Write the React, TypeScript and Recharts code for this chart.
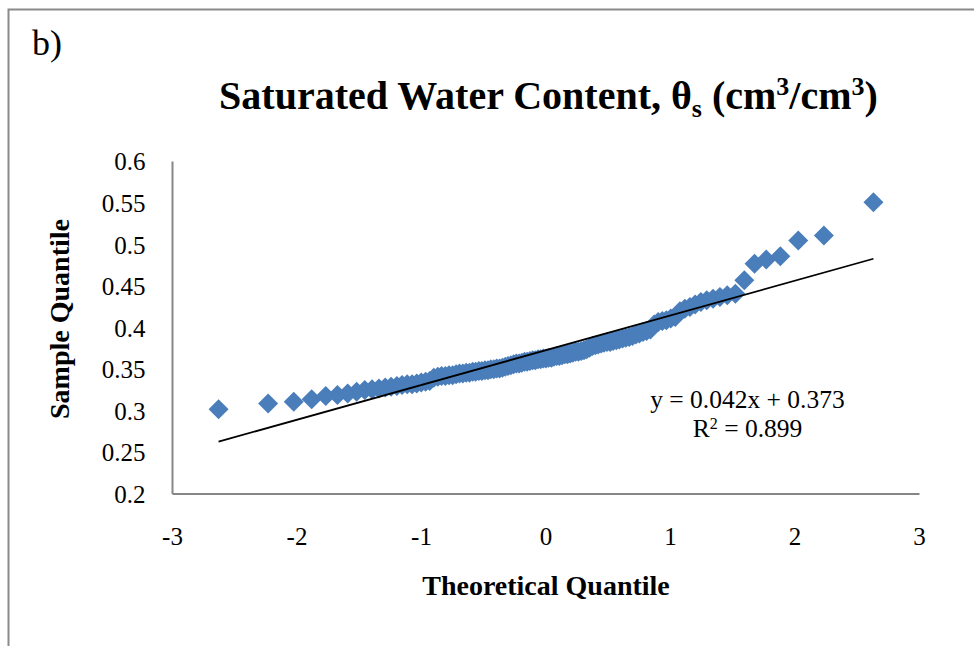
import React from 'react';
import { ScatterChart, Scatter, XAxis, YAxis, Customized } from 'recharts';

// Theoretical normal quantiles (x) and sorted sample values (y)
const qX = [-2.630,-2.232,-2.026,-1.882,-1.769,-1.675,-1.593,-1.521,-1.456,-1.397,-1.342,-1.291,-1.244,-1.198,-1.156,-1.115,-1.076,-1.038,-1.002,-0.967,-0.934,-0.901,-0.869,-0.839,-0.808,-0.779,-0.750,-0.722,-0.695,-0.668,-0.641,-0.615,-0.589,-0.565,-0.539,-0.515,-0.490,-0.466,-0.443,-0.419,-0.396,-0.373,-0.350,-0.327,-0.305,-0.282,-0.260,-0.238,-0.216,-0.194,-0.172,-0.151,-0.129,-0.107,-0.086,-0.064,-0.043,-0.021,0,0.021,0.043,0.064,0.086,0.107,0.129,0.151,0.172,0.194,0.216,0.238,0.260,0.282,0.305,0.327,0.350,0.373,0.396,0.419,0.443,0.466,0.490,0.515,0.539,0.565,0.589,0.615,0.641,0.668,0.695,0.722,0.750,0.779,0.808,0.839,0.869,0.901,0.934,0.967,1.002,1.038,1.076,1.115,1.156,1.198,1.244,1.291,1.342,1.397,1.456,1.521,1.593,1.675,1.769,1.882,2.026,2.232,2.630];

const qY = [
  0.302,0.309,0.311,0.314,0.318,0.319,0.321,0.323,0.325,0.326,
  0.327,0.328,0.329,0.330,0.331,0.332,0.332,0.333,0.334,0.335,
  0.336,0.340,0.341,0.342,0.342,0.343,0.343,0.344,0.345,0.345,
  0.346,0.346,0.347,0.347,0.348,0.348,0.349,0.349,0.350,0.350,
  0.351,0.351,0.352,0.353,0.354,0.355,0.356,0.357,0.357,0.358,
  0.359,0.359,0.360,0.361,0.361,0.362,0.362,0.363,0.363,0.364,
  0.364,0.365,0.366,0.366,0.367,0.368,0.368,0.369,0.370,0.371,
  0.371,0.372,0.373,0.374,0.376,0.378,0.379,0.380,0.381,0.382,
  0.383,0.383,0.384,0.385,0.386,0.387,0.388,0.389,0.390,0.392,
  0.393,0.395,0.396,0.398,0.404,0.407,0.408,0.409,0.411,0.413,
  0.420,0.423,0.425,0.428,0.431,0.433,0.435,0.437,0.439,0.441,
  0.457,0.477,0.482,0.486,0.505,0.511,0.551,
];

// Linear trend line end points
const trendX = [-2.63, 2.63];
const trendY = [0.263, 0.483];

const xTicks = [-3, -2, -1, 0, 1, 2, 3];
const yTicks = [0.2, 0.25, 0.3, 0.35, 0.4, 0.45, 0.5, 0.55, 0.6];

const points = qX.map((x, i) => ({ x, y: qY[i] }));
const trend = trendX.map((x, i) => ({ x, y: trendY[i] }));

const SERIF = "'Liberation Serif', 'Times New Roman', serif";
const BLUE = '#4A7EBB';
const AXIS = '#868686';

const Diamond = (props: any) => {
  const { cx, cy } = props;
  if (cx == null || cy == null) return <g />;
  const r = 10;
  return (
    <polygon
      points={`${cx},${cy - r} ${cx + r},${cy} ${cx},${cy + r} ${cx - r},${cy}`}
      fill={BLUE}
    />
  );
};

const Overlay = () => (
  <g>
    <path d="M8.5,646 L8.5,9.5 L974,9.5" fill="none" stroke="#8a8a8a" strokeWidth={2} />
    <text x={32} y={55} fontFamily={SERIF} fontSize={36} fill="#000">b)</text>
    <text x={548.5} y={109.3} textAnchor="middle" fontFamily={SERIF} fontWeight="bold" fontSize={40} fill="#000">
      Saturated Water Content, θ<tspan fontSize={26} dy={8}>s</tspan>
      <tspan dy={-8}> (cm</tspan>
      <tspan fontSize={26} dy={-14}>3</tspan>
      <tspan dy={14}>/cm</tspan>
      <tspan fontSize={26} dy={-14}>3</tspan>
      <tspan dy={14}>)</tspan>
    </text>
    <text x={546} y={595} textAnchor="middle" fontFamily={SERIF} fontWeight="bold" fontSize={28} fill="#000">
      Theoretical Quantile
    </text>
    <text x={69} y={319} textAnchor="middle" transform="rotate(-90 69 319)" fontFamily={SERIF} fontWeight="bold" fontSize={28} fill="#000">
      Sample Quantile
    </text>
    <text x={747.5} y={407.5} textAnchor="middle" fontFamily={SERIF} fontSize={25.5} fill="#000">
      y = 0.042x + 0.373
    </text>
    <text x={747.5} y={436.5} textAnchor="middle" fontFamily={SERIF} fontSize={25.5} fill="#000">
      R<tspan fontSize={16} dy={-8}>2</tspan><tspan dy={8}> = 0.899</tspan>
    </text>
  </g>
);

export default function App() {
  return (
    <div style={{ position: 'absolute', left: 0, top: 0, width: 974, height: 646, background: '#fff' }}>
      <ScatterChart
        width={974}
        height={646}
        margin={{ top: 161.5, right: 54.5, bottom: 92, left: 0 }}
      >
        <XAxis
          type="number"
          dataKey="x"
          domain={[-3, 3]}
          ticks={xTicks}
          interval={0}
          height={60}
          tickLine={false}
          tickSize={0}
          tickMargin={33}
          axisLine={{ stroke: AXIS, strokeWidth: 2 }}
          tick={{ fontFamily: SERIF, fontSize: 25, fill: '#000' }}
        />
        <YAxis
          type="number"
          dataKey="y"
          domain={[0.2, 0.6]}
          ticks={yTicks}
          interval={0}
          width={172.5}
          tickLine={false}
          tickSize={0}
          tickMargin={27}
          axisLine={{ stroke: AXIS, strokeWidth: 2 }}
          tick={{ fontFamily: SERIF, fontSize: 25, fill: '#000' }}
        />
        <Scatter data={points} shape={Diamond} isAnimationActive={false} />
        <Scatter
          data={trend}
          shape={() => <g />}
          line={{ stroke: '#000', strokeWidth: 1.8 }}
          isAnimationActive={false}
        />
        <Customized component={Overlay} />
      </ScatterChart>
    </div>
  );
}
